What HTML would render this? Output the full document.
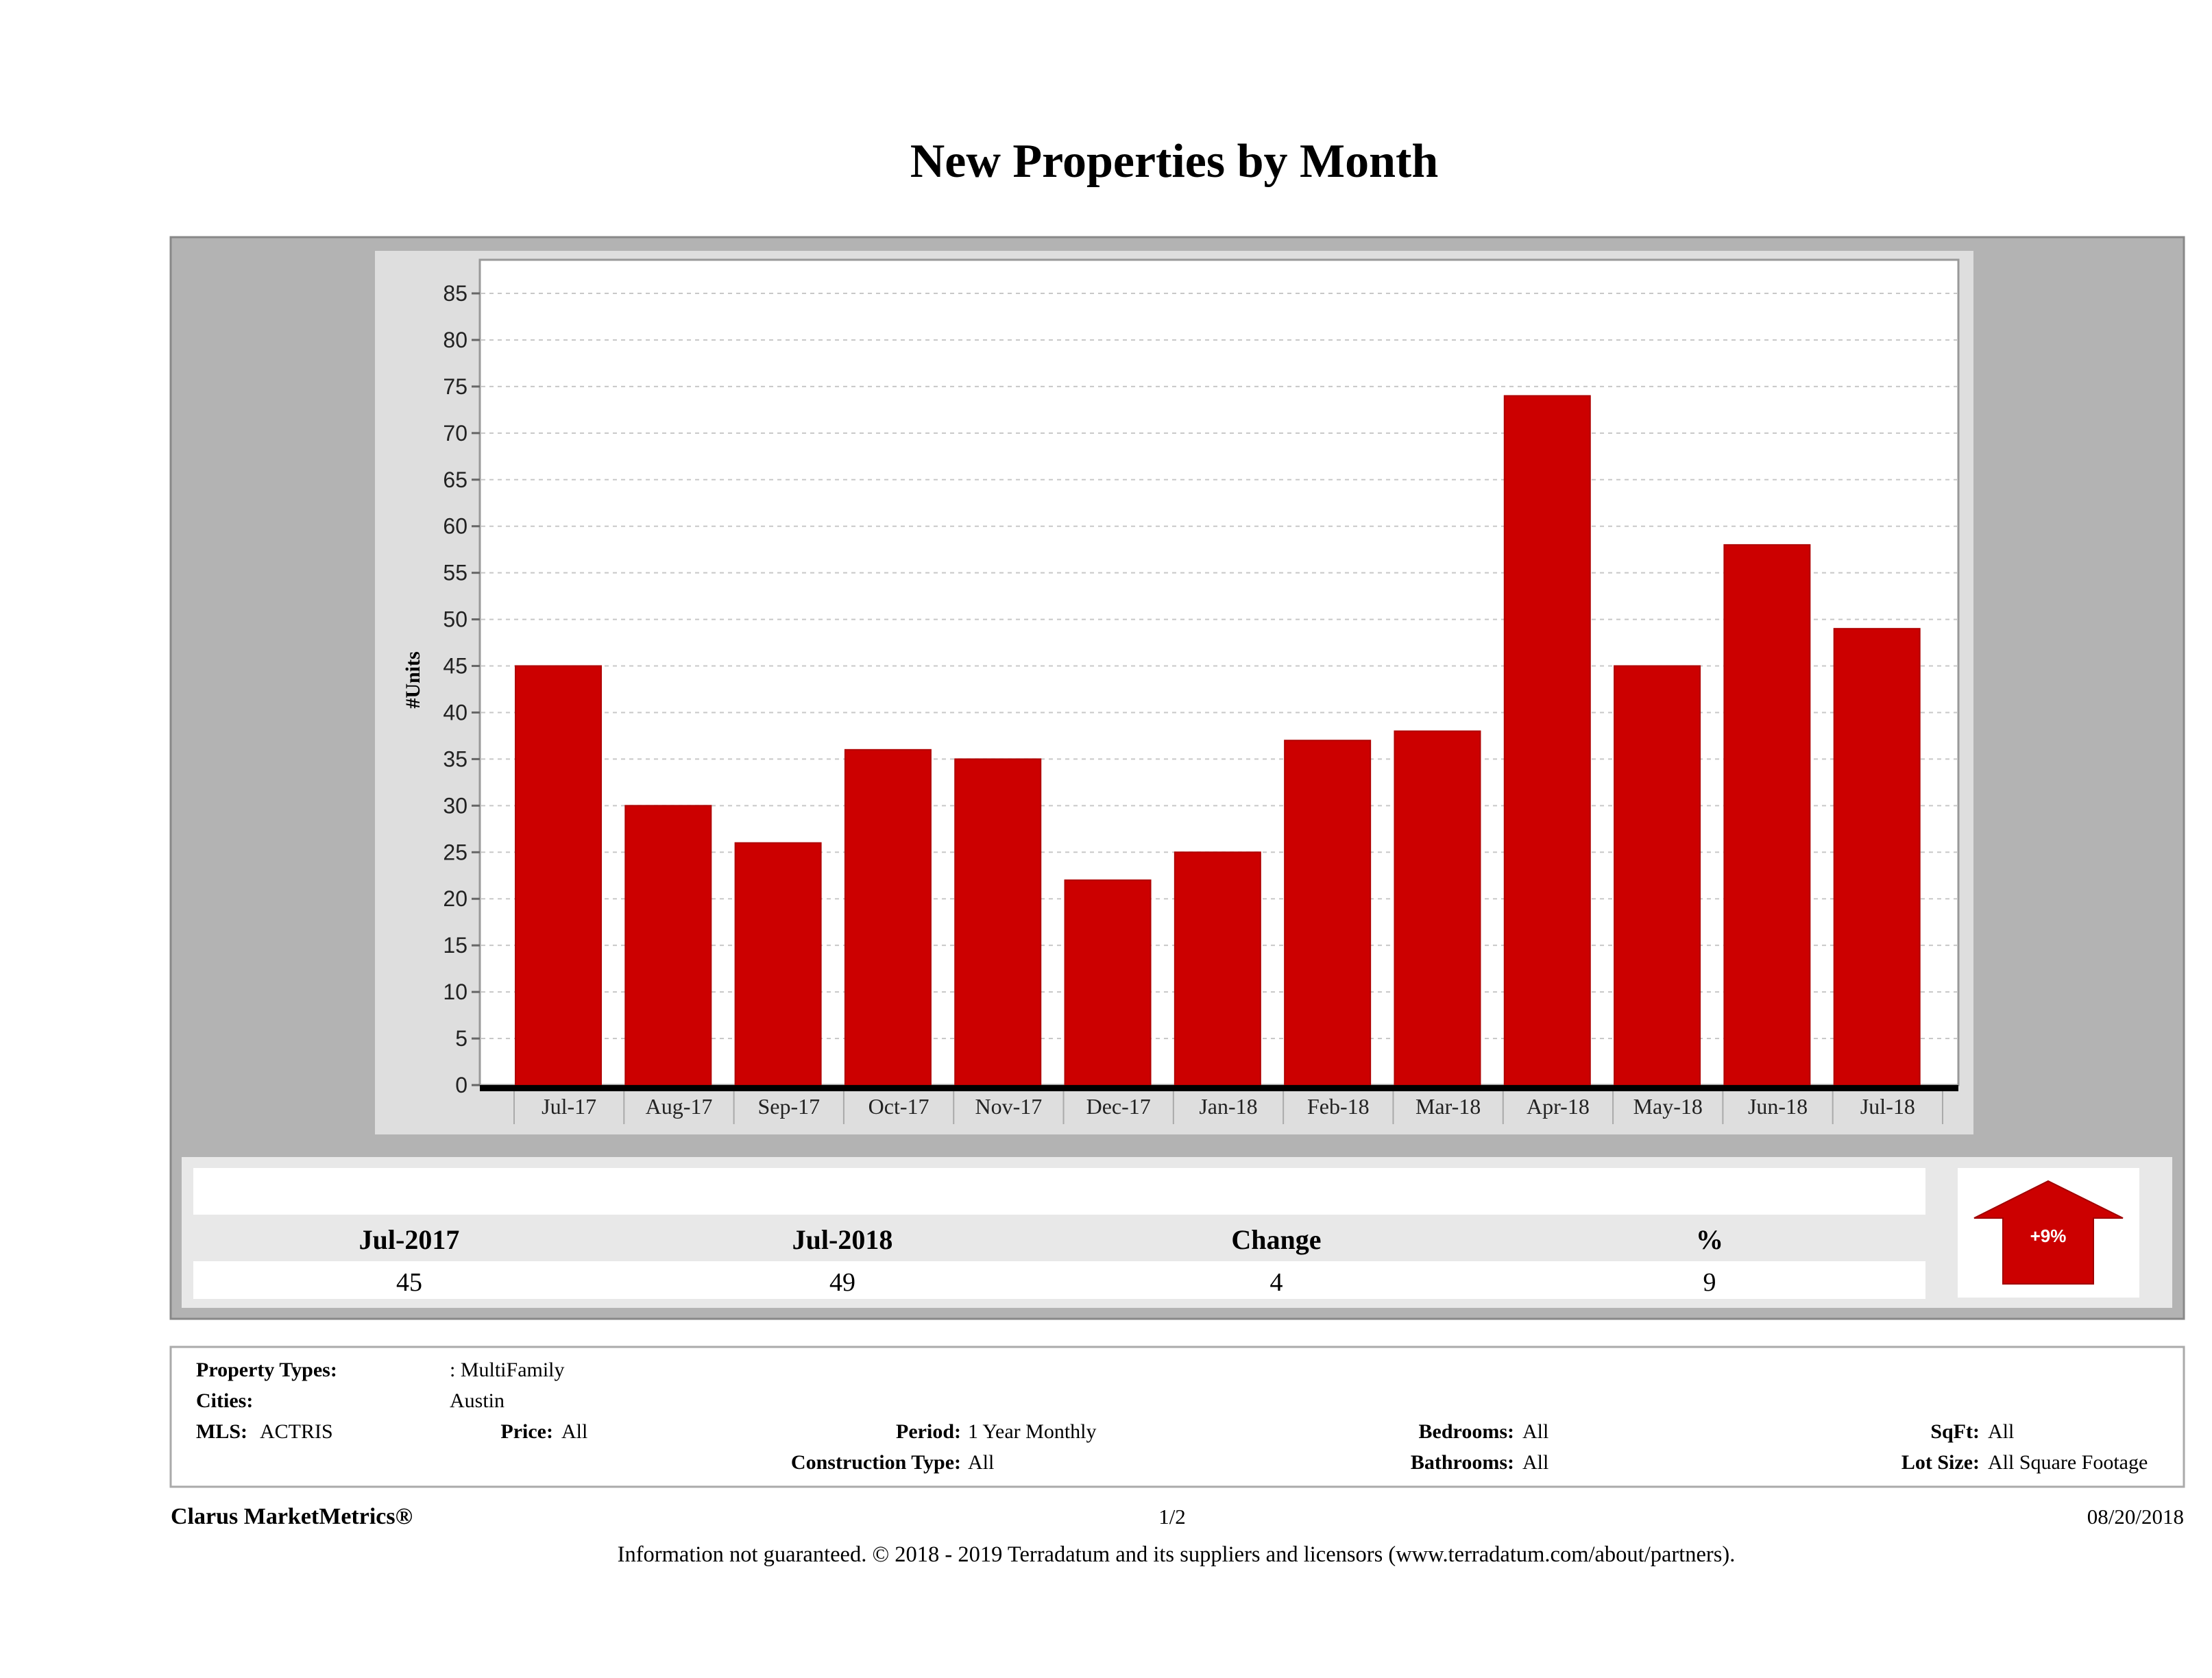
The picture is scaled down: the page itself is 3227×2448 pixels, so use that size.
<!DOCTYPE html>
<html><head><meta charset="utf-8"><style>
html,body{margin:0;padding:0;background:#fff;}
svg{display:block;}
text{font-family:"Liberation Serif",serif;}
</style></head><body>
<svg id="chart" width="3227" height="2448" viewBox="0 0 3227 2448" xmlns="http://www.w3.org/2000/svg">
<text x="1713" y="258" text-anchor="middle" font-size="70" font-weight="bold">New Properties by Month</text>
<rect x="249" y="346" width="2937" height="1578" fill="#b3b3b3" stroke="#888" stroke-width="3"/>
<rect x="547" y="366" width="2332" height="1289" fill="#dedede"/>
<rect x="700" y="379" width="2157" height="1204" fill="#fff" stroke="#999" stroke-width="3"/>
<g id="grid"></g>
<g id="bars"></g>
<g id="yticks"></g>
<g id="xticks"></g>
<rect x="700" y="1583" width="2157" height="9" fill="#000"/>
<text transform="translate(612,992) rotate(-90)" text-anchor="middle" font-size="30" font-weight="bold">#Units</text>

<rect x="265" y="1688" width="2904" height="220" fill="#e8e8e8"/>
<rect x="282" y="1704" width="2527" height="68" fill="#fff"/>
<rect x="282" y="1840" width="2527" height="55" fill="#fff"/>
<g font-size="40" font-weight="bold" text-anchor="middle">
<text x="597" y="1822">Jul-2017</text>
<text x="1229" y="1822">Jul-2018</text>
<text x="1862" y="1822">Change</text>
<text x="2494" y="1822">%</text>
</g>
<g font-size="38" text-anchor="middle">
<text x="597" y="1883">45</text>
<text x="1229" y="1883">49</text>
<text x="1862" y="1883">4</text>
<text x="2494" y="1883">9</text>
</g>
<rect x="2856" y="1704" width="265" height="189" fill="#fff"/>
<polygon points="2988,1723 3097,1777 3054,1777 3054,1873 2922,1873 2922,1777 2880,1777" fill="#cc0000" stroke="#a00000" stroke-width="2"/>
<text x="2988" y="1812" text-anchor="middle" font-size="26" font-weight="bold" fill="#fff" style="font-family:'Liberation Sans',sans-serif">+9%</text>

<rect x="249" y="1965" width="2937" height="204" fill="#fff" stroke="#aaa" stroke-width="3"/>
<g font-size="30">
<text x="286" y="2008" font-weight="bold">Property Types:</text>
<text x="656" y="2008">: MultiFamily</text>
<text x="286" y="2053" font-weight="bold">Cities:</text>
<text x="656" y="2053">Austin</text>
<text x="286" y="2098" font-weight="bold">MLS:</text>
<text x="379" y="2098">ACTRIS</text>
<text x="807" y="2098" font-weight="bold" text-anchor="end">Price:</text>
<text x="819" y="2098">All</text>
<text x="1402" y="2098" font-weight="bold" text-anchor="end">Period:</text>
<text x="1412" y="2098">1 Year Monthly</text>
<text x="2209" y="2098" font-weight="bold" text-anchor="end">Bedrooms:</text>
<text x="2221" y="2098">All</text>
<text x="2888" y="2098" font-weight="bold" text-anchor="end">SqFt:</text>
<text x="2900" y="2098">All</text>
<text x="1402" y="2143" font-weight="bold" text-anchor="end">Construction Type:</text>
<text x="1412" y="2143">All</text>
<text x="2209" y="2143" font-weight="bold" text-anchor="end">Bathrooms:</text>
<text x="2221" y="2143">All</text>
<text x="2888" y="2143" font-weight="bold" text-anchor="end">Lot Size:</text>
<text x="2900" y="2143">All Square Footage</text>
</g>
<text x="249" y="2223" font-size="34" font-weight="bold">Clarus MarketMetrics®</text>
<text x="1710" y="2223" font-size="31" text-anchor="middle">1/2</text>
<text x="3186" y="2223" font-size="31" text-anchor="end">08/20/2018</text>
<text x="1716" y="2278" font-size="32.5" text-anchor="middle">Information not guaranteed. © 2018 - 2019 Terradatum and its suppliers and licensors (www.terradatum.com/about/partners).</text>
</svg>
<script>
const categories = ["Jul-17","Aug-17","Sep-17","Oct-17","Nov-17","Dec-17","Jan-18","Feb-18","Mar-18","Apr-18","May-18","Jun-18","Jul-18"];
const units = [45,30,26,36,35,22,25,37,38,74,45,58,49];
const yTicks = [0,5,10,15,20,25,30,35,40,45,50,55,60,65,70,75,80,85];
const NS="http://www.w3.org/2000/svg";
const y0=1583, perUnit=(1583-428)/85;
function yScale(v){return y0 - v*perUnit;}
const slotLeft=750, slotW=(2834-750)/13, barW=125;
function xScale(i){return slotLeft + i*slotW;}
function mk(tag,attrs,parent){const e=document.createElementNS(NS,tag);for(const k in attrs)e.setAttribute(k,attrs[k]);parent.appendChild(e);return e;}
const grid=document.getElementById('grid'), bars=document.getElementById('bars'), yt=document.getElementById('yticks'), xt=document.getElementById('xticks');
yTicks.forEach(function(v){
  const y=yScale(v);
  if(v>0){
    const g=mk('line',{x1:702,x2:2855,y1:y,y2:y,stroke:'#c8c8c8','stroke-width':2,'stroke-dasharray':'6,6'},grid);
    
    
  }
  const tk=mk('line',{x1:688,x2:700,y1:y,y2:y,stroke:'#666','stroke-width':3},yt);
  
  
  const t=mk('text',{x:682,y:y+11,'text-anchor':'end','font-size':32,style:"font-family:'Liberation Sans',sans-serif",fill:'#222'},yt);
  t.textContent=v;
  
  
});
categories.forEach(function(c,i){
  const x=xScale(i);
  const r=mk('rect',{x:x+2,y:yScale(units[i]),width:barW,height:units[i]*perUnit,fill:'#cc0000',stroke:'#b00000','stroke-width':2},bars);
  
  
  const d=mk('line',{x1:x,x2:x,y1:1592,y2:1640,stroke:'#aaa','stroke-width':2},xt);
  
  
  const t=mk('text',{x:x+slotW/2,y:1625,'text-anchor':'middle','font-size':32,fill:'#222'},xt);
  t.textContent=c;
  
  
});
const last=mk('line',{x1:xScale(13),x2:xScale(13),y1:1592,y2:1640,stroke:'#aaa','stroke-width':2},xt);


</script>
</body></html>
